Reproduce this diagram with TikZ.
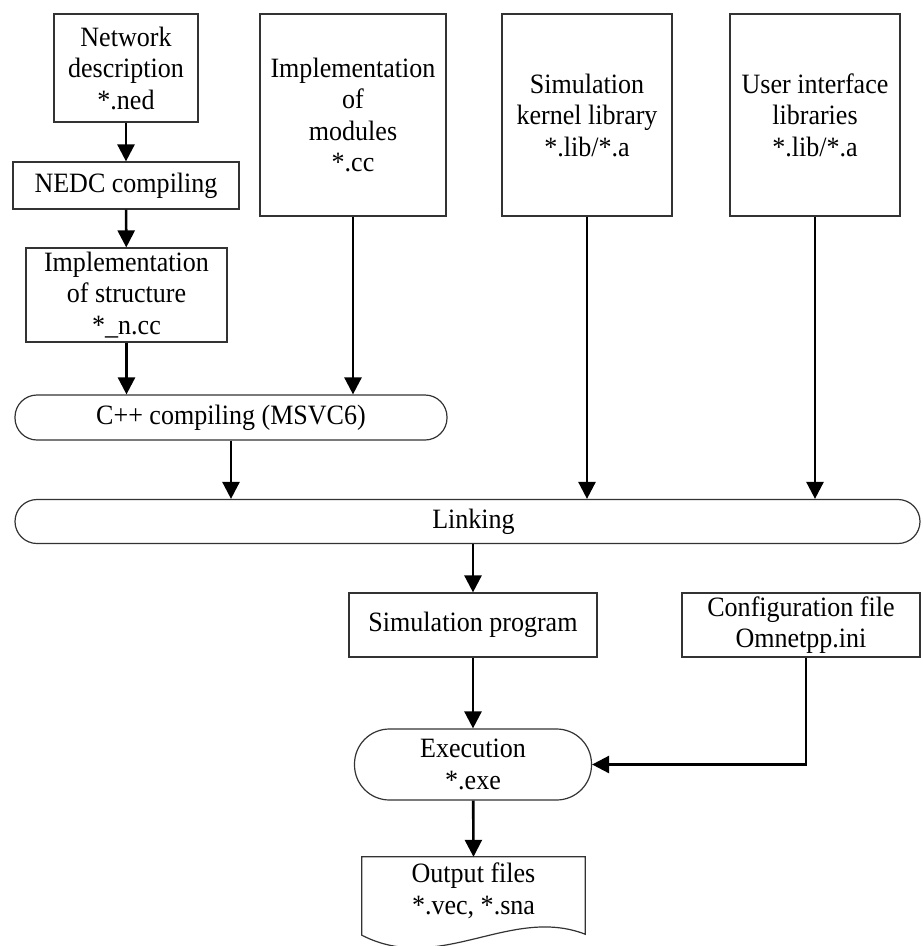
\documentclass[tikz,border=0pt]{standalone}
\usepackage{fontspec}
\setmainfont{Liberation Serif}[FakeStretch=0.93]
\usetikzlibrary{arrows.meta}
\begin{document}
\begin{tikzpicture}[x=1pt,y=-1pt,
  every node/.style={font=\fontsize{28}{31.5}\selectfont, align=center, inner sep=0pt},
  box/.style={draw=black!80, line width=1.2pt, rectangle},
  pill/.style={box, rounded corners=#1},
  conn/.style={line width=2.6pt, -{Triangle[length=17pt,width=17pt]}}]
\useasboundingbox (0,0) rectangle (922,946);

% source files and libraries
\node[box, minimum width=144pt, minimum height=108pt] (net) at (126,68) {Network\\description\\*.ned};
\node[box, minimum width=226pt, minimum height=47pt] (nedc) at (126,185.5) {NEDC compiling};
\node[box, minimum width=201pt, minimum height=94pt] (impls) at (126.5,295) {Implementation\\of structure\\*\_n.cc};
\node[box, minimum width=186pt, minimum height=202pt] (mods) at (353,115) {Implementation\\of\\modules\\*.cc};
\node[box, minimum width=170pt, minimum height=202pt] (kern) at (587,115) {Simulation\\kernel library\\*.lib/*.a};
\node[box, minimum width=170pt, minimum height=202pt] (ui) at (815,115) {User interface\\libraries\\*.lib/*.a};

% build steps
\node[pill=22pt, minimum width=432pt, minimum height=45pt] (cpp) at (231,417.5) {C++ compiling (MSVC6)};
\node[pill=22pt, minimum width=905pt, minimum height=44pt] (link) at (467.5,521.5) {\hspace*{12pt}Linking};

% run
\node[box, minimum width=248pt, minimum height=64pt] (simp) at (473,625) {Simulation program};
\node[box, minimum width=238pt, minimum height=64pt] (conf) at (801,625) {Configuration file\\Omnetpp.ini};
\node[pill=35pt, minimum width=237pt, minimum height=71pt] (exec) at (473,764.5) {Execution\\*.exe};

% output document with wavy bottom edge
\node[minimum width=223pt, minimum height=83pt] (out) at (473.5,898.5) {};
\node at (473.5,891) {Output files\\*.vec, *.sna};
\draw[draw=black!80, line width=1.2pt]
  ([yshift=5pt]out.south west) -- (out.north west) -- (out.north east) -- ([yshift=6pt]out.south east)
  .. controls ([xshift=-75pt,yshift=35pt]out.south east) and ([xshift=78pt,yshift=-35pt]out.south west)
  .. ([yshift=5pt]out.south west) -- cycle;

% connectors
\draw[conn] (net) -- (nedc);
\draw[conn] (nedc) -- (impls);
\draw[conn] (impls.south) -- (impls.south |- cpp.north);
\draw[conn] (mods.south) -- (mods.south |- cpp.north);
\draw[conn] (cpp.south) -- (cpp.south |- link.north);
\draw[conn] (kern.south) -- (kern.south |- link.north);
\draw[conn] (ui.south) -- (ui.south |- link.north);
\draw[conn] (simp.north |- link.south) -- (simp.north);
\draw[conn] (simp) -- (exec);
\draw[conn] (exec) -- (out.north);
\draw[conn] ([xshift=5pt]conf.south) |- (exec.east);
\end{tikzpicture}
\end{document}
